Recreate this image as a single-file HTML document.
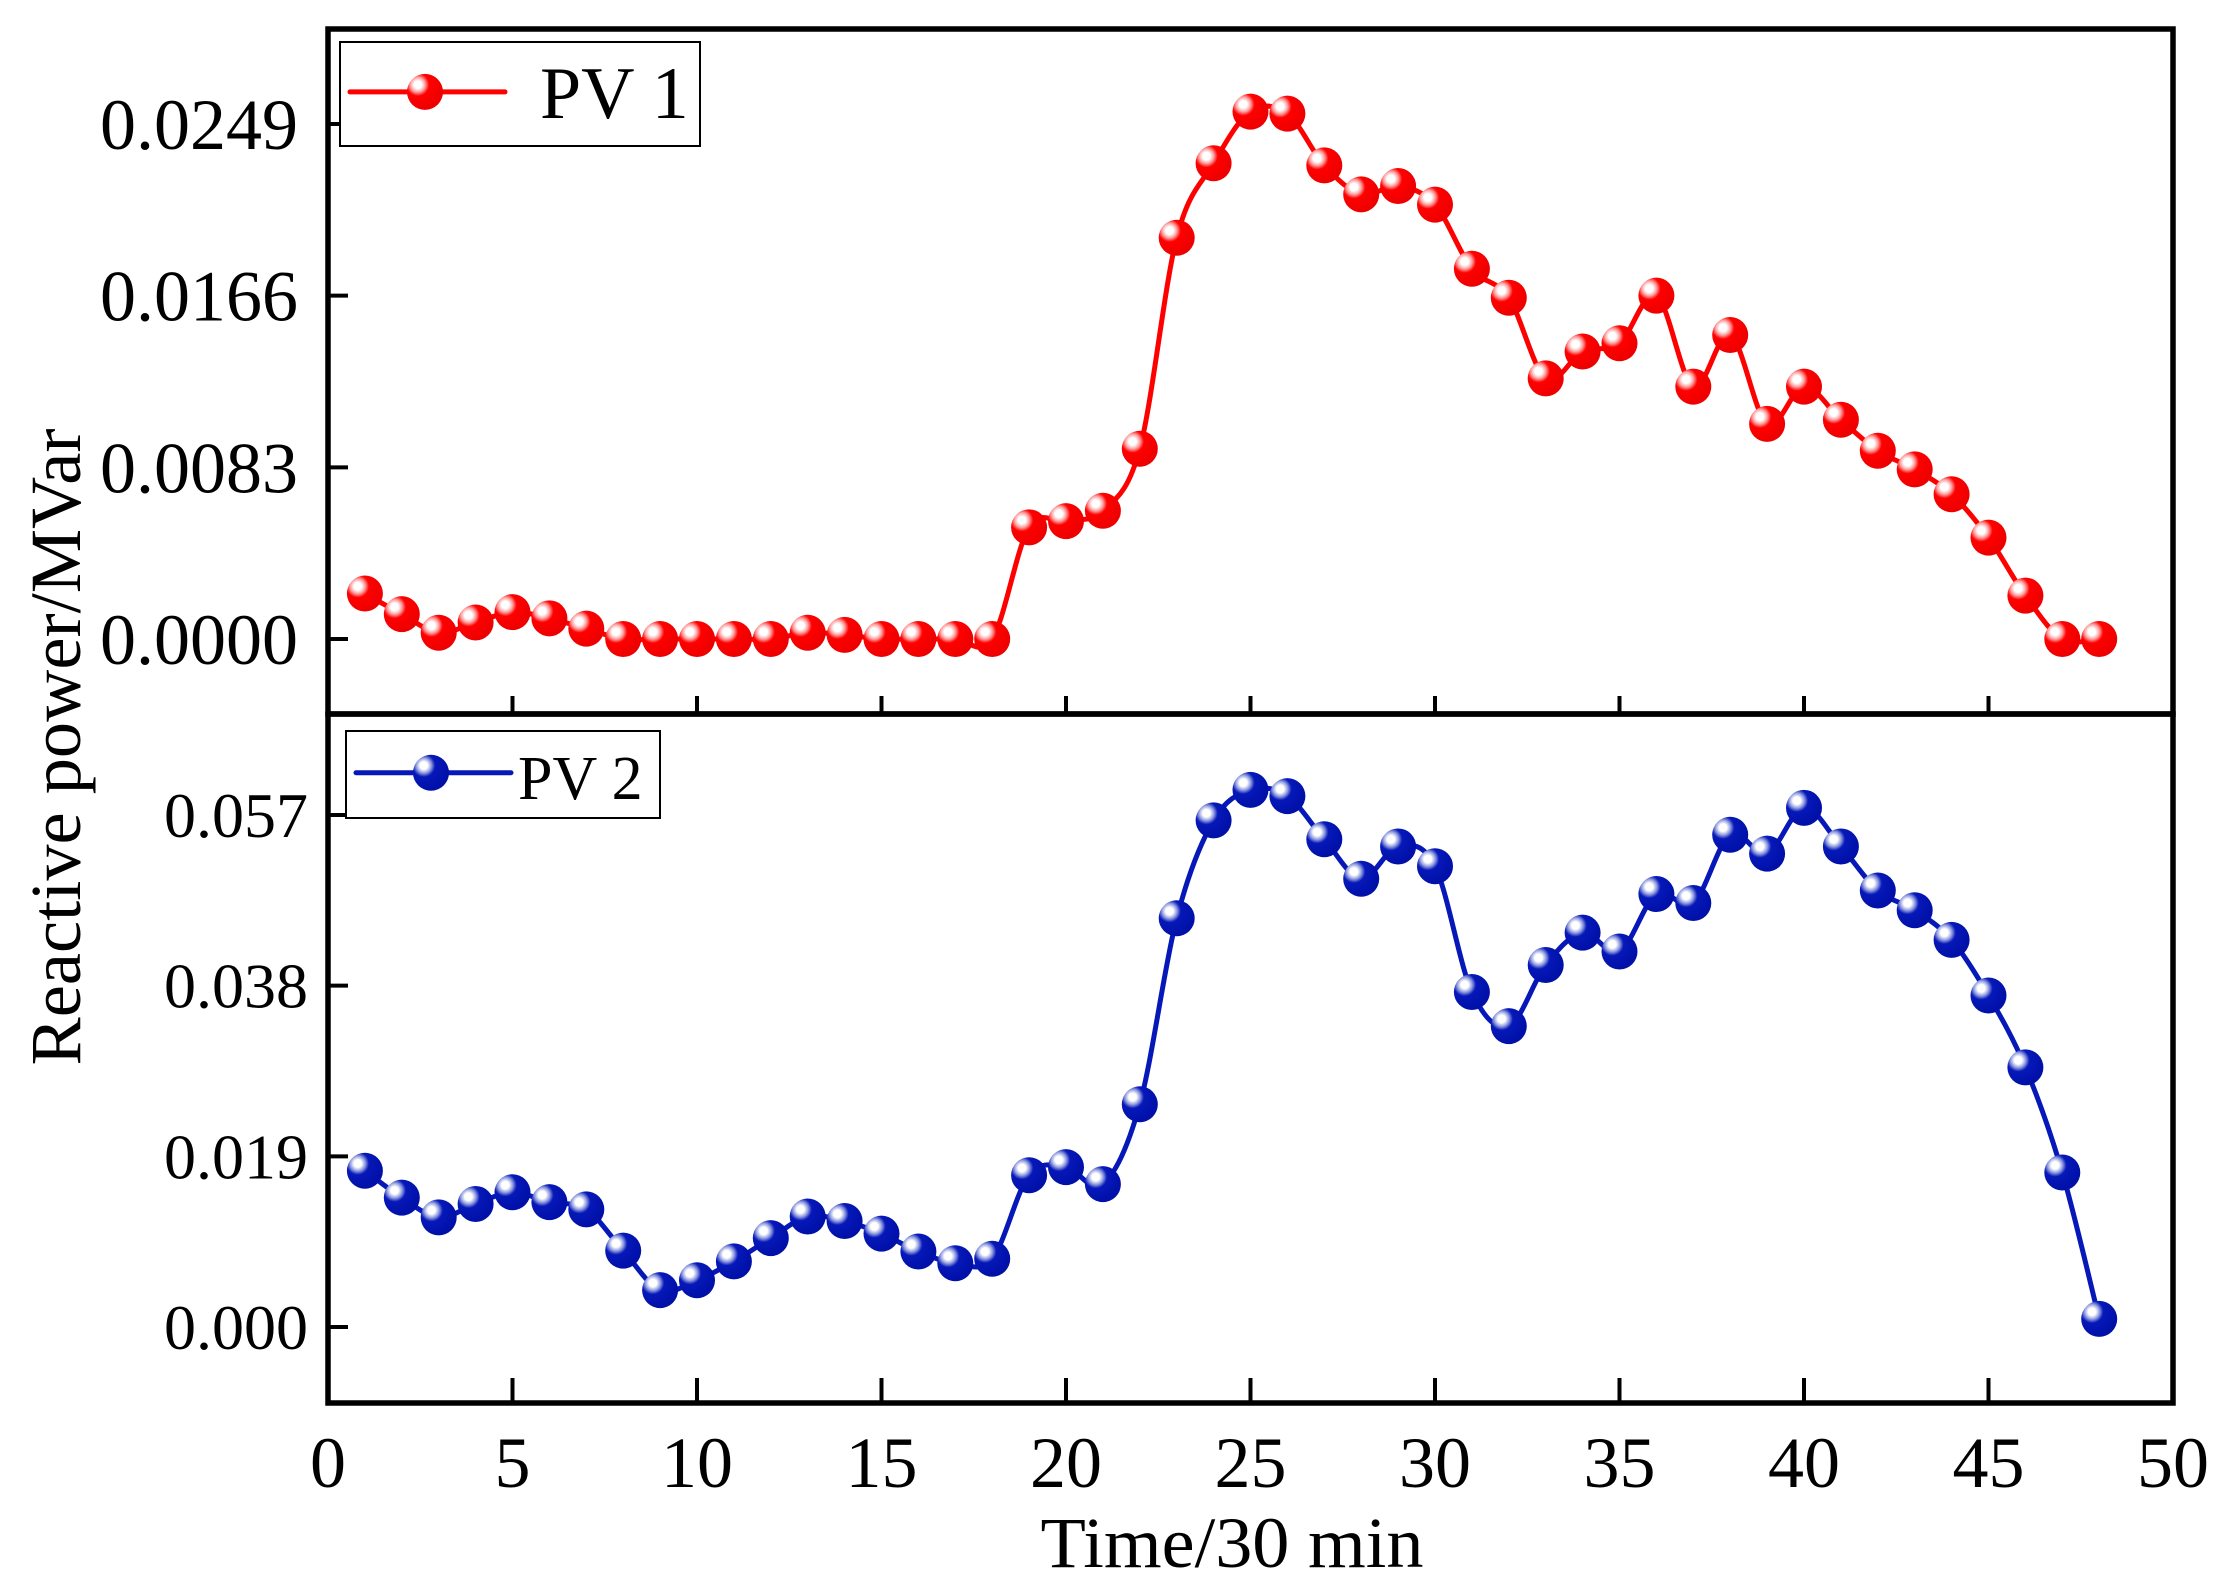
<!DOCTYPE html>
<html><head><meta charset="utf-8"><style>
html,body{margin:0;padding:0;background:#fff;}
svg{display:block;}
text{font-family:"Liberation Serif","Times New Roman",serif;}
</style></head><body>
<svg id="chart" width="2226" height="1590" viewBox="0 0 2226 1590" xmlns="http://www.w3.org/2000/svg">
<defs>
<radialGradient id="gr" cx="0.3" cy="0.3" r="0.7"><stop offset="0" stop-color="#fff"/><stop offset="0.15" stop-color="#fff"/><stop offset="0.3" stop-color="#ff9a9a"/><stop offset="0.45" stop-color="#ff0000"/><stop offset="1" stop-color="#ee0000"/></radialGradient>
<radialGradient id="gb" cx="0.3" cy="0.3" r="0.7"><stop offset="0" stop-color="#fff"/><stop offset="0.15" stop-color="#fff"/><stop offset="0.3" stop-color="#8f9be0"/><stop offset="0.45" stop-color="#0618b8"/><stop offset="1" stop-color="#0010a8"/></radialGradient>
</defs>
<g id="g"></g>
</svg>
<script>
const xs = [1,2,3,4,5,6,7,8,9,10,11,12,13,14,15,16,17,18,19,20,21,22,23,24,25,26,27,28,29,30,31,32,33,34,35,36,37,38,39,40,41,42,43,44,45,46,47,48];
const pv1 = [0.0022,0.0012,0.0003,0.0008,0.0013,0.0010,0.0005,0,0,0,0,0,0.0003,0.0002,0,0,0,0,0.0054,0.0057,0.0062,0.0092,0.0194,0.0230,0.0255,0.0254,0.0229,0.0215,0.0219,0.0210,0.0179,0.0165,0.0126,0.0139,0.0143,0.0166,0.0122,0.0147,0.0104,0.0122,0.0106,0.0091,0.0082,0.0070,0.0049,0.0021,0,0];
const pv2 = [0.0174,0.0144,0.0122,0.0137,0.0150,0.0139,0.0131,0.0085,0.0041,0.0052,0.0073,0.0099,0.0123,0.0118,0.0104,0.0084,0.0071,0.0076,0.0169,0.0178,0.0159,0.0248,0.0455,0.0564,0.0598,0.0591,0.0543,0.0499,0.0535,0.0513,0.0373,0.0335,0.0403,0.0439,0.0418,0.0482,0.0472,0.0548,0.0527,0.0578,0.0535,0.0486,0.0464,0.0431,0.0369,0.0289,0.0172,0.0009];
const xTicks = [0,5,10,15,20,25,30,35,40,45,50];
const y1Ticks = [0.0000,0.0083,0.0166,0.0249];
const y1Labels = ["0.0000","0.0083","0.0166","0.0249"];
const y2Ticks = [0.000,0.019,0.038,0.057];
const y2Labels = ["0.000","0.019","0.038","0.057"];

const NS="http://www.w3.org/2000/svg";
const FF='"Liberation Serif","Times New Roman",serif';
const g=document.getElementById('g');
function mk(t,a,p){const e=document.createElementNS(NS,t);for(const k in a)e.setAttribute(k,a[k]);if(t==='text')e.setAttribute('font-family',FF);(p||g).appendChild(e);return e;}
const L=328,R=2173,T=29,M=714,B=1403;
const sx=v=>L+(v-0)/(50-0)*(R-L);
const sy1=v=>639-v/0.0249*(639-124);
const sy2=v=>1327-v/0.057*(1327-815);

function spline(pts){
  let d=`M${pts[0][0]},${pts[0][1]}`;
  for(let i=0;i<pts.length-1;i++){
    const p0=pts[Math.max(i-1,0)],p1=pts[i],p2=pts[i+1],p3=pts[Math.min(i+2,pts.length-1)];
    const t=0.5/3;
    const c1=[p1[0]+(p2[0]-p0[0])*t,p1[1]+(p2[1]-p0[1])*t];
    const c2=[p2[0]-(p3[0]-p1[0])*t,p2[1]-(p3[1]-p1[1])*t];
    d+=`C${c1[0]},${c1[1]} ${c2[0]},${c2[1]} ${p2[0]},${p2[1]}`;
  }
  return d;
}
function series(vals,sy,color,grad,name){
  const grp=mk('g',{});
  
  
  const pts=xs.map((x,i)=>[sx(x),sy(vals[i])]);
  const ln=mk('path',{d:spline(pts),fill:'none',stroke:color,'stroke-width':5},grp);
  
  
  pts.forEach((p,i)=>{
    const c=mk('circle',{cx:p[0],cy:p[1],r:18,fill:'url(#'+grad+')'},grp);
    
    
  });
}
const f1=mk('rect',{x:L,y:T,width:R-L,height:M-T,fill:'none',stroke:'#000','stroke-width':5.5});


const f2=mk('rect',{x:L,y:M,width:R-L,height:B-M,fill:'none',stroke:'#000','stroke-width':5.5});


xTicks.forEach(v=>{
  const x=sx(v);
  if(v>0&&v<50){
    const t1=mk('line',{x1:x,x2:x,y1:B,y2:B-25,stroke:'#000','stroke-width':4});
    
    
    const t2=mk('line',{x1:x,x2:x,y1:M,y2:M-18,stroke:'#000','stroke-width':4});
    
    
  }
  const tx=mk('text',{x:x,y:1487,'font-size':72,'text-anchor':'middle'});
  tx.textContent=v;
  
  
});
y1Ticks.forEach((v,i)=>{
  const y=sy1(v);
  const t=mk('line',{x1:L,x2:L+20,y1:y,y2:y,stroke:'#000','stroke-width':4});
  
  
  const tx=mk('text',{x:298,y:y+25,'font-size':72,'text-anchor':'end'});
  tx.textContent=y1Labels[i];
  
  
});
y2Ticks.forEach((v,i)=>{
  const y=sy2(v);
  const t=mk('line',{x1:L,x2:L+20,y1:y,y2:y,stroke:'#000','stroke-width':4});
  
  
  const tx=mk('text',{x:308,y:y+22,'font-size':64,'text-anchor':'end'});
  tx.textContent=y2Labels[i];
  
  
});
series(pv1,sy1,'#ff0000','gr','pv1');
series(pv2,sy2,'#0618b8','gb','pv2');
function legend(x,y,w,h,color,grad,label,fs,tx,name){
  const grp=mk('g',{});
  
  
  mk('rect',{x:x,y:y,width:w,height:h,fill:'#fff',stroke:'#000','stroke-width':2},grp);
  const cy=y+h*0.48;
  mk('line',{x1:x+10,x2:x+165,y1:cy,y2:cy,stroke:color,'stroke-width':5,'stroke-linecap':'round'},grp);
  mk('circle',{cx:x+85,cy:cy,r:18,fill:'url(#'+grad+')'},grp);
  const t=mk('text',{x:tx,y:cy+26,'font-size':fs},grp);
  t.textContent=label;
}
legend(340,42,360,104,'#ff0000','gr','PV 1',74,540,'legend-pv1');
legend(346,731,314,87,'#0618b8','gb','PV 2',62,518,'legend-pv2');
const yt=mk('text',{x:0,y:0,'font-size':72,'text-anchor':'middle',transform:'translate(80,747) rotate(-90)',textLength:637,lengthAdjust:'spacingAndGlyphs'});
yt.textContent='Reactive power/MVar';


const xt=mk('text',{x:1232,y:1567,'font-size':72,'text-anchor':'middle',textLength:383,lengthAdjust:'spacingAndGlyphs'});
xt.textContent='Time/30 min';


</script>
</body></html>
